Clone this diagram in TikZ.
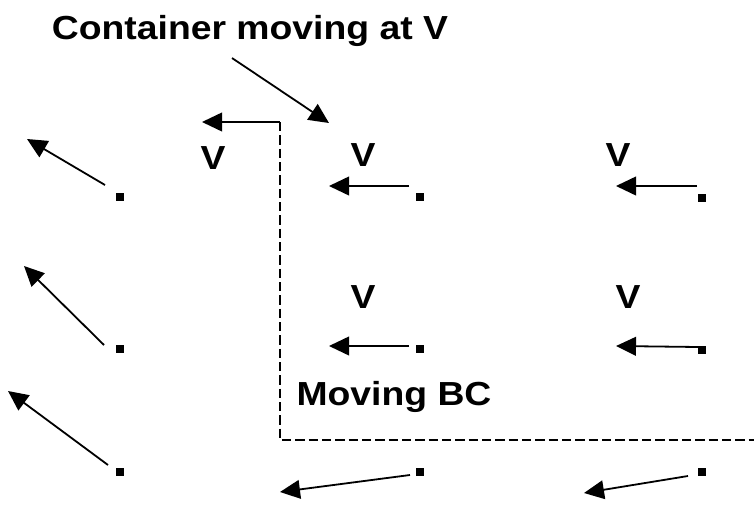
\documentclass[tikz,border=0pt]{standalone}
\usepackage{fontspec}
\newfontfamily\lblfont[FakeStretch=1.12]{Liberation Sans Bold}
\usetikzlibrary{arrows.meta}
\begin{document}
\begin{tikzpicture}[x=0.75pt,y=-0.75pt,
  lbl/.style={inner sep=0pt,font=\lblfont\fontsize{25}{30}\selectfont},
  dot/.style={fill=black,draw=none,minimum size=5.8pt,inner sep=0pt},
  vec/.style={line width=1.35pt,-{Triangle[length=15pt,width=14pt]}},
  bc/.style={line width=1.4pt,dash pattern=on 7pt off 3pt}]
\useasboundingbox (0,0) rectangle (754,532);

% title and its pointer
\node[lbl,anchor=base] (title) at (250,39) {Container moving at V};
\coordinate (tA) at (232,58);
\coordinate (tB) at (329,123);
\draw[vec] (tA) -- (tB);

% grid of points
\node[dot] (p11) at (120,197) {};
\node[dot] (p12) at (420,197) {};
\node[dot] (p13) at (702,198) {};
\node[dot] (p21) at (120,349) {};
\node[dot] (p22) at (420,349) {};
\node[dot] (p23) at (702,350) {};
\node[dot] (p31) at (120,472) {};
\node[dot] (p32) at (420,472) {};
\node[dot] (p33) at (702,472) {};

% velocity vectors: tails and tips
\coordinate (a11) at (105,185); \coordinate (b11) at (27,139);
\coordinate (a21) at (104,345); \coordinate (b21) at (24,266);
\coordinate (a31) at (108,465); \coordinate (b31) at (8,391);
\coordinate (a12) at (409,186); \coordinate (b12) at (329,186);
\coordinate (a13) at (697,186); \coordinate (b13) at (616,186);
\coordinate (a22) at (409,346); \coordinate (b22) at (329,346);
\coordinate (a23) at (698,347); \coordinate (b23) at (616,346);
\coordinate (a32) at (410,475); \coordinate (b32) at (280,492);
\coordinate (a33) at (688,476); \coordinate (b33) at (584,493);
\foreach \k in {11,21,31,12,13,22,23,32,33}
  \draw[vec] (a\k) -- (b\k);

% wall velocity and moving boundary
\coordinate (c0) at (280,122);
\coordinate (c1) at (202,122);
\coordinate (c2) at (280,440);
\coordinate (c3) at (754,440);
\draw[vec] (c0) -- (c1);
\draw[bc] (c0) -- (c2) -- (c3);

% labels
\node[lbl] (v0) at (213,158) {V};
\node[lbl] (v12) at (363,155) {V};
\node[lbl] (v13) at (618,155) {V};
\node[lbl] (v22) at (363,297) {V};
\node[lbl] (v23) at (628,297) {V};
\node[lbl] (mbc) at (394,397) {Moving BC};
\end{tikzpicture}
\end{document}
